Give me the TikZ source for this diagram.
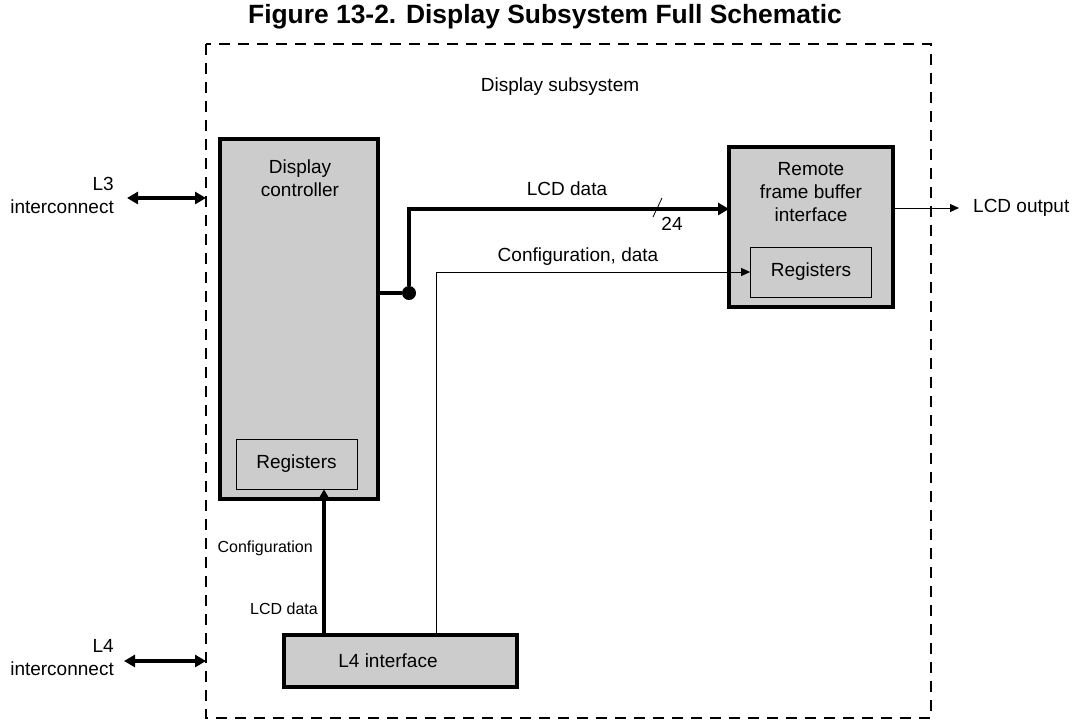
\documentclass[tikz,border=0pt]{standalone}
\usepackage{fontspec}
\setmainfont{Liberation Sans}
\usetikzlibrary{arrows.meta}

\begin{document}
\begin{tikzpicture}[x=1pt,y=-1pt,
  txt/.style={font=\fontsize{19}{23}\selectfont,inner sep=0pt},
  small/.style={font=\fontsize{16}{19}\selectfont,inner sep=0pt},
  blk/.style={draw,line width=3.4pt,fill=black!20,inner sep=0pt},
  regbox/.style={draw,line width=0.7pt,fill=black!20,minimum width=121pt,
    minimum height=50pt,font=\fontsize{19}{23}\selectfont},
  bus/.style={line width=3.4pt},
  wire/.style={line width=0.9pt},
  busarrow/.style={bus,-{Triangle[length=11pt,width=12pt]}},
  duplex/.style={bus,{Triangle[length=11pt,width=12pt]}-{Triangle[length=11pt,width=12pt]}},
  wirearrow/.style={wire,-{Triangle[length=9pt,width=8pt]}},
  junction/.style={circle,fill,inner sep=0pt,minimum size=14pt}]
  \useasboundingbox (0,0) rectangle (1086,721);
  % title and subsystem frame
  \node[font=\fontsize{26.4}{30}\selectfont\bfseries] (title) at (545,17)
    {Figure 13-2. Display Subsystem Full Schematic};
  \draw[line width=1.2pt,dash pattern=on 11pt off 8pt] (206,44) rectangle (931,718);
  \node[txt] (subsys) at (560,87) {Display subsystem};
  % display controller with its registers
  \node[blk,minimum width=158pt,minimum height=360pt] (ctrl) at (299,319) {};
  \node[txt,align=center,anchor=north] (ctrltxt) at (300,160)
    {Display\\controller};
  \node[regbox] (ctrlreg) at (296.5,464) {Registers};
  % remote frame buffer interface
  \node[blk,minimum width=164pt,minimum height=160pt] (rfbi) at (811,227) {};
  \node[txt,align=center,anchor=north] (rfbitxt) at (811,162)
    {Remote\\frame buffer\\interface};
  \node[regbox] (rfbireg) at (811,272) {Registers};
  % L4 interface
  \node[blk,minimum width=233pt,minimum height=52pt] (l4if) at (400.5,661) {};
  \node[txt] (l4txt) at (388,661) {L4 interface};
  % external ports
  \node[txt,align=right,anchor=east] (l3lbl) at (114,195) {L3\\interconnect};
  \node[txt,align=right,anchor=east] (l4lbl) at (114,658) {L4\\interconnect};
  \coordinate (l3out) at (127,198);
  \coordinate (l3in) at (206,198);
  \coordinate (l4out) at (124,661);
  \coordinate (l4in) at (206,661);
  \draw[duplex] (l3out) -- (l3in);
  \draw[duplex] (l4out) -- (l4in);
  % LCD data bus
  \node[junction] (dot) at (409,293) {};
  \coordinate (lcdin) at (729,209);
  \draw[bus] (ctrl.east |- dot) -- (dot);
  \draw[busarrow] (dot) |- (lcdin);
  \node[txt] (lcdlbl) at (567,189) {LCD data};
  \draw[line width=0.8pt] (653,217) -- (662,198);
  \node[txt] (width) at (672,224) {24};
  % configuration path to remote frame buffer registers
  \coordinate (cfgx) at (436,0);
  \draw[wirearrow] (l4if.north -| cfgx) |- (rfbireg.west);
  \node[txt] (cfglbl) at (578,257) {Configuration, data};
  % configuration path to controller registers
  \coordinate (upx) at (324,0);
  \draw[busarrow] (l4if.north -| upx) -- (ctrlreg.south -| upx);
  \node[small,anchor=east] (cfgup) at (313,548) {Configuration};
  \node[small,anchor=east] (lcdup) at (318,609) {LCD data};
  % LCD output
  \node[txt,anchor=west] (lcdout) at (973,208) {LCD output};
  \draw[wirearrow,shorten >=14pt] (rfbi.east |- lcdout) -- (lcdout.west);
\end{tikzpicture}
\end{document}
